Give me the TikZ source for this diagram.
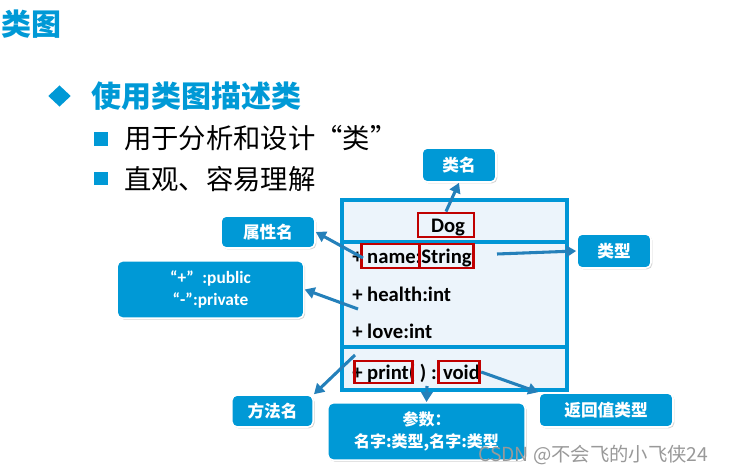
\documentclass[tikz,border=0pt]{standalone}
\usepackage{fontspec}
\setmainfont{Carlito}
\newfontfamily\cjk{Noto Sans CJK SC}
\usetikzlibrary{shadows,arrows.meta,shapes.geometric}
\definecolor{ppblue}{RGB}{0,153,214}
\definecolor{arrowblue}{RGB}{36,128,186}
\definecolor{boxfill}{RGB}{236,244,251}
\definecolor{boxline}{RGB}{0,150,214}
\definecolor{redline}{RGB}{192,0,0}
\tikzset{
  callout/.style={fill=ppblue, draw=white, line width=1.2pt, rounded corners=4pt,
    drop shadow={shadow xshift=1pt, shadow yshift=-1pt, opacity=0.35},
    text=white, font=\cjk\bfseries\fontsize{12.5pt}{15pt}\selectfont, align=center, inner sep=0pt},
  pointer/.style={draw=arrowblue, line width=2.3pt, -{Triangle[length=7.5pt,width=8.5pt]}, shorten >=0pt},
  redbox/.style={draw=redline, line width=2.2pt, inner sep=0pt},
  membertext/.style={font=\bfseries\fontsize{15.5pt}{18pt}\selectfont, anchor=west, inner sep=0pt},
  bulletsq/.style={fill=ppblue, minimum width=10.5pt, minimum height=10pt, inner sep=0pt},
}
\begin{document}
\begin{tikzpicture}[x=0.75pt,y=-0.75pt]
\useasboundingbox (0,0) rectangle (737,473);
% title and bullets
\node[anchor=west, inner sep=0pt, text=ppblue, font=\cjk\bfseries\fontsize{22.5pt}{26pt}\selectfont] (title) at (1,24) {类图};
\node[fill=ppblue, minimum width=17pt, minimum height=16pt, inner sep=0pt, shape=diamond] (dia) at (59.5,96) {};
\node[anchor=west, inner sep=0pt, text=ppblue, font=\cjk\bfseries\fontsize{22.5pt}{26pt}\selectfont] (head) at (91,96) {使用类图描述类};
\node[bulletsq] (sq1) at (100.5,139) {};
\node[anchor=west, inner sep=0pt, font=\cjk\fontsize{20.5pt}{24pt}\selectfont] (b1) at (124,138) {用于分析和设计“类”};
\node[bulletsq] (sq2) at (100.5,178.5) {};
\node[anchor=west, inner sep=0pt, font=\cjk\fontsize{20.5pt}{24pt}\selectfont] (b2) at (124,179) {直观、容易理解};
% class box
\node[draw=boxline, fill=boxfill, line width=3pt, minimum width=168.75pt, minimum height=142.5pt, inner sep=0pt] (cls) at (454.5,295) {};
\coordinate (s1l) at (342,242); \coordinate (s1r) at (567,242);
\coordinate (s2l) at (342,347); \coordinate (s2r) at (567,347);
\draw[draw=boxline, line width=3pt] (s1l) -- (s1r);
\draw[draw=boxline, line width=3pt] (s2l) -- (s2r);
\node[font=\bfseries\fontsize{15.5pt}{18pt}\selectfont, inner sep=0pt] (dog) at (448,228) {Dog};
\node[membertext] (m1) at (352,258) {+ name:String};
\node[membertext] (m2) at (352,294) {+ health:int};
\node[membertext] (m3) at (352,331) {+ love:int};
\node[membertext] (m4) at (352,373) {+ print( ) : void};
% red boxes
\node[redbox, minimum width=42pt, minimum height=18pt] (dogbox) at (446,225) {};
\node[redbox, minimum width=44pt, minimum height=18pt] (namebox) at (390.5,256) {};
\node[redbox, minimum width=41pt, minimum height=18pt] (typebox) at (446.5,256) {};
\node[redbox, minimum width=44pt, minimum height=16.5pt] (printbox) at (383.5,372) {};
\node[redbox, minimum width=31pt, minimum height=16.5pt] (voidbox) at (459,372) {};
% callouts
\node[callout, minimum width=55.5pt, minimum height=25.5pt] (cname) at (459,165) {类名};
\node[callout, minimum width=70.5pt, minimum height=24pt] (aname) at (268,232) {属性名};
\node[callout, minimum width=55.5pt, minimum height=25.5pt] (tname) at (614,251) {类型};
\node[callout, minimum width=140pt, minimum height=43pt, font=\bfseries\fontsize{13pt}{16pt}\selectfont] (vis) at (210.5,289.5) {“+”\enspace:public\\“-”:private};
\node[callout, minimum width=61pt, minimum height=24pt] (mname) at (272.5,411) {方法名};
\node[callout, minimum width=148pt, minimum height=43pt, font=\cjk\bfseries\fontsize{12pt}{17pt}\selectfont] (params) at (426.5,431.5) {参数：\\名字:类型,名字:类型};
\node[callout, minimum width=100.5pt, minimum height=25.5pt] (rname) at (606,410) {返回值类型};
% pointer start points
\coordinate (pa) at (363,258);
\coordinate (pt) at (497,254);
\coordinate (pv) at (358,309);
\coordinate (pm) at (355,355);
\coordinate (pp) at (427,386);
\draw[pointer] (dogbox.north) -- (cname.south);
\draw[pointer] (pa) -- (aname.east);
\draw[pointer] (pt) -- (tname.west);
\draw[pointer] (pv) -- (vis.east);
\draw[pointer] (pm) -- (mname.north east);
\draw[pointer] (pp) -- (params.north);
\draw[pointer] (voidbox.east) -- (rname.north west);
% watermark
\node[anchor=west, inner sep=0pt, text=black!40, font=\cjk\fontsize{14.5pt}{17pt}\selectfont] (wm) at (478,455) {CSDN @不会飞的小飞侠24};
\end{tikzpicture}
\end{document}
